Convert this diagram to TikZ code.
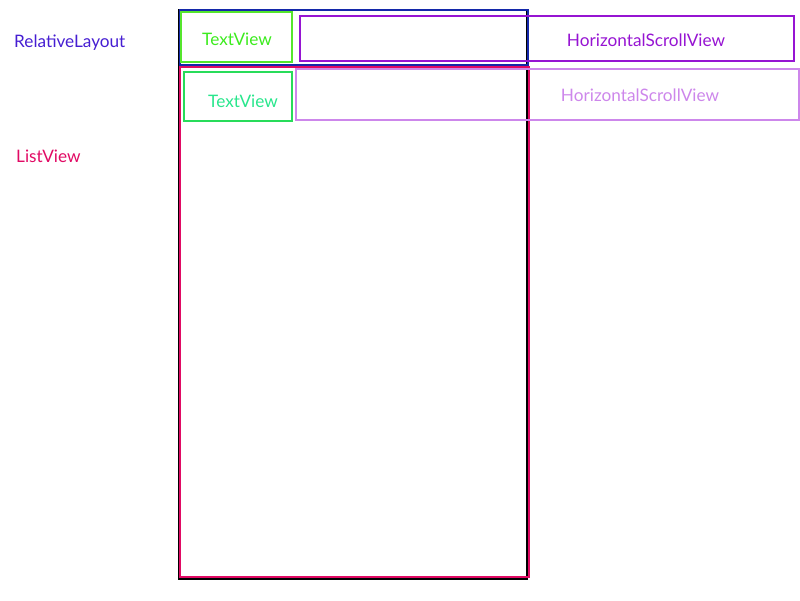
\documentclass[tikz,border=0pt]{standalone}
\usepackage{fontspec}
\setmainfont{Lato}
\usetikzlibrary{positioning}
\definecolor{layoutblue}{RGB}{20,40,170}
\definecolor{layoutink}{RGB}{70,30,210}
\definecolor{tvgreen}{RGB}{85,230,45}
\definecolor{tvgreenink}{RGB}{60,235,30}
\definecolor{tvmint}{RGB}{40,220,90}
\definecolor{tvmintink}{RGB}{40,230,140}
\definecolor{hsvpurple}{RGB}{150,20,210}
\definecolor{hsvlilac}{RGB}{205,135,235}
\definecolor{listpink}{RGB}{225,10,100}

\begin{document}
\begin{tikzpicture}[x=1pt,y=-1pt,
   frame/.style={draw,line width=2pt,inner sep=0pt,outer sep=0pt},
   lbl/.style={font=\fontsize{17.2}{20}\selectfont,inner sep=0pt}]
  \useasboundingbox (0,0) rectangle (800,600);
  % outer frame and layout boxes
  \node[frame,black,minimum width=348pt,minimum height=569pt] (root) at (353,294.5) {};
  \node[frame,layoutblue,minimum width=348pt,minimum height=55pt] (rl) at (354,37.5) {};
  \node[frame,tvgreen,minimum width=111pt,minimum height=50pt] (tv1) at (236.5,37) {};
  \node[frame,hsvpurple,minimum width=494pt,minimum height=45pt] (hsv1) at (547,38.5) {};
  \node[frame,listpink,minimum width=349pt,minimum height=510pt] (lv) at (354.5,322) {};
  \node[frame,tvmint,minimum width=108pt,minimum height=49pt] (tv2) at (238,96.5) {};
  \node[frame,hsvlilac,minimum width=503pt,minimum height=51pt] (hsv2) at (547.5,94.5) {};
  % labels
  \node[lbl,layoutink,anchor=west] (rllbl) at (14,42.5) {RelativeLayout};
  \node[lbl,listpink,anchor=west] (lvlbl) at (16,156) {ListView};
  \node[lbl,tvgreenink] (tv1lbl) at (237,39) {TextView};
  \node[lbl,tvmintink] (tv2lbl) at (243,101) {TextView};
  \node[lbl,hsvpurple] (hsv1lbl) at (646,40) {HorizontalScrollView};
  \node[lbl,hsvlilac] (hsv2lbl) at (640,95) {HorizontalScrollView};
\end{tikzpicture}
\end{document}
